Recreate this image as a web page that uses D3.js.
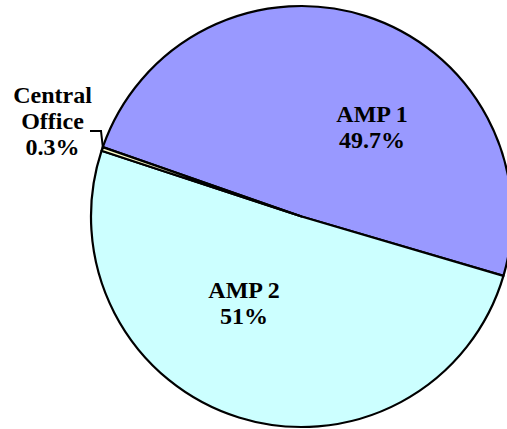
<!DOCTYPE html>
<html>
<head>
<meta charset="utf-8">
<script src="https://cdn.jsdelivr.net/npm/d3@7"></script>
</head>
<body style="margin:0">
<svg id="chart" width="507" height="429"></svg>
<script>
const categories = ["AMP 1", "AMP 2", "Central Office"];
const values = [49.7, 51, 0.3];
const valueLabels = ["49.7%", "51%", "0.3%"];
const colors = ["#9999FF", "#CCFFFF", "#FFFFCC"];

const cx = 301.5, cy = 216.5, R = 210.5;
const startDeg = 289.25;

const svg = d3.select("#chart");
const g = svg.append("g").attr("transform", `translate(${cx},${cy})`);

const pie = d3.pie().sort(null).value(d => d)
  .startAngle(startDeg * Math.PI / 180)
  .endAngle(startDeg * Math.PI / 180 + 2 * Math.PI);
const arcs = pie(values);
const arc = d3.arc().innerRadius(0).outerRadius(R);

g.selectAll("path.slice").data(arcs).enter().append("path")
  .attr("class", "slice")
  .attr("d", arc)
  .attr("fill", (d, i) => colors[i])
  .attr("stroke", "#000")
  .attr("stroke-width", 2.2)
  .attr("stroke-linejoin", "round");

// label placement (layout only)
const labelPos = [
  { x: 372, y: 121.5, lines: [categories[0], valueLabels[0]] },
  { x: 244, y: 298, lines: [categories[1], valueLabels[1]] },
  { x: 52.5, y: 103, lines: ["Central", "Office", valueLabels[2]] }
];
const fs = 24, lh = 26;
labelPos.forEach(p => {
  p.lines.forEach((ln, k) => {
    svg.append("text")
      .attr("x", p.x).attr("y", p.y + k * lh)
      .attr("text-anchor", "middle")
      .attr("font-family", "Liberation Serif")
      .attr("font-weight", "bold")
      .attr("font-size", fs)
      .text(ln);
  });
});

// leader line for Central Office
const co = arcs[2];
const mid = (co.startAngle + co.endAngle) / 2;
const rimX = cx + (R - 1) * Math.sin(mid), rimY = cy - (R - 1) * Math.cos(mid);
svg.append("path")
  .attr("d", `M90,131 L101,131 L${rimX},${rimY}`)
  .attr("fill", "none")
  .attr("stroke", "#000")
  .attr("stroke-width", 2);
</script>
</body>
</html>
